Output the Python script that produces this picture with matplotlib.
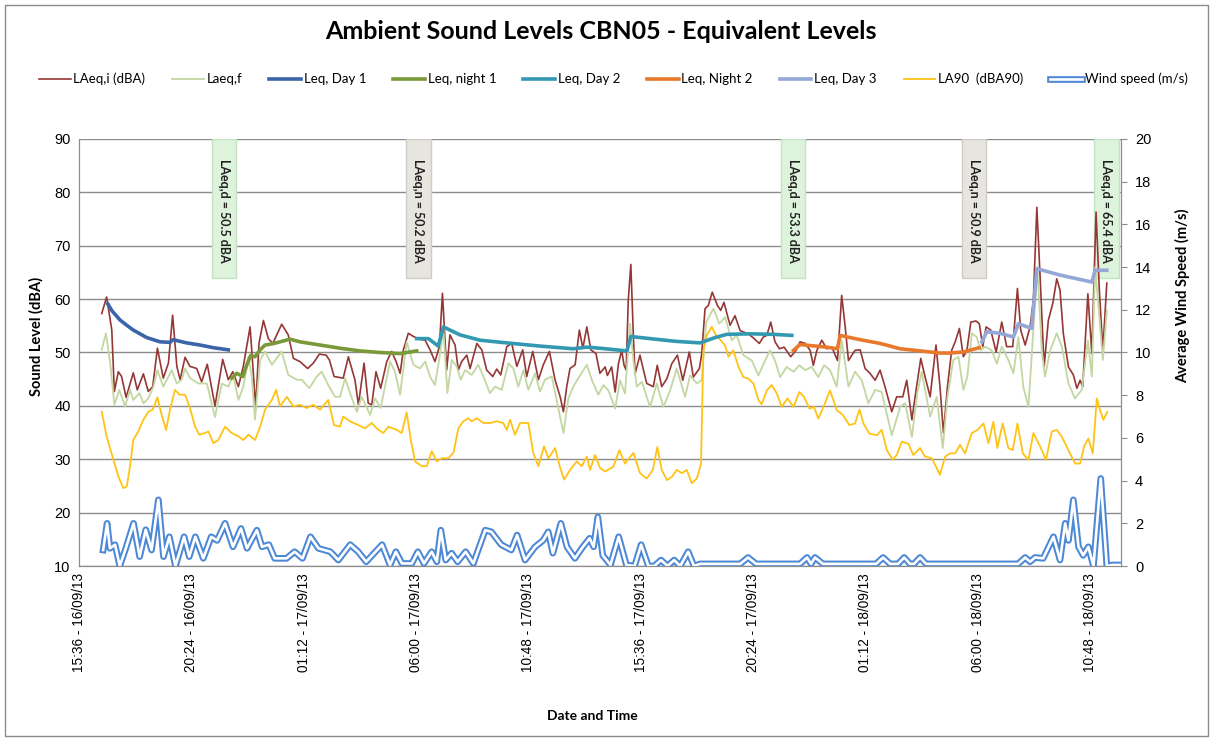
import matplotlib
matplotlib.use("Agg")
import matplotlib.pyplot as plt
from matplotlib.patches import Rectangle

# time axis: hours after 15:36 on 16/09/13
tick_hours = [0, 4.8, 9.6, 14.4, 19.2, 24.0, 28.8, 33.6, 38.4, 43.2]
tick_labels = ["15:36 - 16/09/13", "20:24 - 16/09/13", "01:12 - 17/09/13", "06:00 - 17/09/13",
               "10:48 - 17/09/13", "15:36 - 17/09/13", "20:24 - 17/09/13", "01:12 - 18/09/13",
               "06:00 - 18/09/13", "10:48 - 18/09/13"]

# LAeq,i (dBA)
laeq_i_t = [0.97, 1.18, 1.40, 1.51, 1.68, 1.82, 2.01, 2.32, 2.49, 2.75, 2.96, 3.15, 3.35, 3.60, 3.82, 4.00,
            4.18, 4.32, 4.53, 4.74, 5.03, 5.24, 5.48, 5.81, 6.14, 6.38, 6.57, 6.81, 7.02, 7.31, 7.42, 7.55,
            7.69, 7.88, 8.09, 8.28, 8.66, 8.94, 9.16, 9.44, 9.77, 10.01, 10.27, 10.56, 10.70, 10.90, 11.29,
            11.51, 11.79, 11.94, 12.18, 12.36, 12.51, 12.69, 12.89, 13.15, 13.36, 13.55, 13.72, 13.86, 14.07,
            14.29, 14.54, 14.79, 15.00, 15.21, 15.40, 15.53, 15.60, 15.71, 15.85, 16.07, 16.21, 16.35, 16.57,
            16.71, 17.00, 17.21, 17.42, 17.68, 17.85, 18.02, 18.28, 18.49, 18.71, 18.96, 19.13, 19.39, 19.63,
            19.84, 20.10, 20.34, 20.56, 20.70, 20.84, 20.98, 21.20, 21.38, 21.53, 21.70, 21.87, 22.09, 22.26,
            22.48, 22.58, 22.76, 22.91, 23.05, 23.19, 23.29, 23.38, 23.47, 23.58, 23.69, 23.76, 23.97, 24.12,
            24.26, 24.54, 24.71, 24.90, 25.12, 25.33, 25.57, 25.80, 26.08, 26.25, 26.51, 26.61, 26.75, 26.89,
            27.06, 27.28, 27.42, 27.56, 27.82, 28.03, 28.25, 28.42, 28.60, 28.85, 29.07, 29.24, 29.39, 29.56,
            29.74, 29.93, 30.13, 30.41, 30.64, 30.81, 31.03, 31.24, 31.38, 31.53, 31.74, 31.95, 32.17, 32.41,
            32.59, 32.74, 32.88, 33.16, 33.38, 33.59, 33.80, 34.02, 34.23, 34.44, 34.73, 34.94, 35.20, 35.37,
            35.59, 35.77, 35.97, 36.15, 36.37, 36.62, 36.79, 36.94, 37.11, 37.29, 37.44, 37.62, 37.79, 37.94,
            38.11, 38.33, 38.47, 38.62, 38.76, 38.96, 39.19, 39.43, 39.64, 39.90, 40.10, 40.24, 40.43, 40.64,
            40.78, 40.93, 41.07, 41.24, 41.42, 41.61, 41.78, 41.92, 42.06, 42.28, 42.49, 42.64, 42.78, 42.89,
            43.11, 43.28, 43.46, 43.60, 43.75, 43.92]
laeq_i = [57.3, 60.4, 54.2, 42.7, 46.4, 45.5, 41.6, 46.2, 43.0, 46.0, 42.7, 43.6, 50.8, 45.2, 48.0, 57.0,
          47.4, 44.9, 49.1, 47.4, 47.0, 44.5, 47.8, 40.0, 48.7, 44.9, 46.4, 43.6, 47.4, 54.8, 48.0, 39.6,
          51.7, 56.0, 52.6, 51.7, 55.3, 53.3, 48.9, 48.3, 47.0, 48.0, 49.7, 49.5, 48.6, 45.5, 45.2,
          49.2, 44.9, 40.2, 48.0, 40.5, 40.2, 46.4, 43.3, 48.3, 50.2, 48.3, 46.1, 50.5, 53.6,
          53.0, 52.5, 52.3, 50.5, 48.3, 51.1, 61.1, 55.5, 46.7, 53.3, 51.4, 46.7, 48.3, 49.5,
          47.0, 51.7, 50.5, 46.7, 45.5, 46.9, 45.8, 51.1, 51.7, 47.4, 50.5, 45.5, 50.2, 44.9,
          47.7, 50.2, 44.9, 41.7, 38.9, 43.6, 47.0, 47.7, 54.2, 50.8, 54.8, 50.5, 49.8, 46.1,
          47.3, 45.7, 47.3, 42.6, 47.9, 50.4, 47.6, 46.7, 59.8, 66.5, 52.9, 46.0, 49.5, 46.7,
          44.2, 43.6, 47.6, 43.6, 45.1, 47.9, 49.5, 44.8, 50.1, 45.4, 47.0, 49.8, 58.2, 58.8,
          61.3, 58.8, 57.9, 59.4, 55.1, 56.9, 54.1, 53.8, 53.5, 52.6, 51.7, 52.9, 53.2, 55.7,
          52.0, 50.7, 51.0, 49.2, 50.4, 52.0, 51.7, 50.4, 47.6, 50.4, 52.3, 50.7, 51.0, 48.5,
          60.7, 54.8, 48.5, 50.4, 50.5, 47.0, 46.1, 44.8, 46.7, 43.6, 38.9, 41.7, 41.7, 44.8,
          37.4, 43.0, 48.9, 45.5, 41.7, 51.4, 43.6, 34.9, 43.6, 50.4, 52.0, 54.5, 49.2, 50.4,
          55.7, 55.9, 55.4, 51.1, 54.8, 54.2, 50.1, 55.7, 51.1, 51.1, 62.0, 54.2, 51.4, 54.8,
          59.8, 77.2, 64.1, 47.3, 56.0, 59.2, 63.8, 61.7, 53.6, 47.3, 45.8, 43.3, 44.8, 43.6,
          61.0, 49.8, 76.3, 61.7, 50.4, 63.0]

# Laeq,f
laeq_f_t = [0.97, 1.15, 1.35, 1.51, 1.72, 1.97, 2.18, 2.32, 2.58, 2.75, 2.96, 3.18, 3.35, 3.60, 3.96, 4.18,
            4.39, 4.53, 4.74, 5.10, 5.46, 5.81, 6.10, 6.38, 6.59, 6.81, 7.02, 7.24, 7.38, 7.52, 7.74, 7.95,
            8.24, 8.66, 8.94, 9.30, 9.52, 9.84, 10.16, 10.37, 10.65, 10.94, 11.15, 11.37, 11.58, 11.87,
            12.08, 12.44, 12.65, 12.89, 13.29, 13.50, 13.72, 14.00, 14.29, 14.57, 14.79, 15.00, 15.21,
            15.43, 15.57, 15.74, 15.93, 16.14, 16.31, 16.50, 16.78, 17.06, 17.28, 17.56, 17.78, 18.06,
            18.35, 18.56, 18.77, 18.99, 19.20, 19.49, 19.70, 19.91, 20.20, 20.41, 20.70, 20.91, 21.12,
            21.38, 21.70, 21.91, 22.19, 22.41, 22.62, 22.91, 23.12, 23.33, 23.55, 23.69, 23.83, 24.05,
            24.40, 24.69, 24.97, 25.26, 25.54, 25.90, 26.11, 26.40, 26.61, 26.80, 27.11, 27.36, 27.61,
            27.89, 28.11, 28.39, 28.75, 29.03, 29.32, 29.53, 29.74, 29.96, 30.24, 30.53, 30.78, 31.03,
            31.31, 31.59, 31.84, 32.09, 32.38, 32.59, 32.88, 33.16, 33.45, 33.73, 34.02, 34.30, 34.73,
            35.09, 35.30, 35.59, 35.82, 36.01, 36.37, 36.65, 36.91, 37.11, 37.36, 37.58, 37.79, 37.96,
            38.15, 38.36, 38.53, 38.72, 39.00, 39.22, 39.43, 39.71, 39.93, 40.14, 40.35, 40.57, 40.78,
            40.95, 41.14, 41.28, 41.50, 41.78, 42.00, 42.28, 42.56, 42.85, 43.11, 43.28, 43.42, 43.60,
            43.75, 43.92]
laeq_f = [50.5, 53.6, 47.4, 40.2, 43.0, 39.9, 43.0, 41.1, 42.4, 40.5, 41.4, 43.6, 46.7, 43.6, 46.7, 44.2,
          44.9, 47.0, 45.2, 44.2, 44.2, 37.9, 44.2, 43.6, 45.8, 41.1, 43.6, 49.2, 45.5, 37.4, 48.6, 50.2,
          47.7, 50.2, 45.8, 44.9, 44.9, 43.3, 45.5, 46.4, 43.9, 41.7, 41.7, 45.2, 42.4, 38.9,
          41.7, 38.3, 41.4, 39.6, 48.3, 46.4, 42.1, 52.0, 47.7, 47.0, 48.3, 45.5, 43.9,
          49.8, 54.5, 42.4, 48.6, 47.4, 44.9, 46.7, 45.8, 47.7, 45.5, 42.4, 43.6, 43.0,
          48.0, 47.0, 43.6, 46.7, 43.0, 46.1, 42.7, 44.9, 45.5, 41.1, 34.9, 41.4, 43.6,
          45.5, 47.7, 44.9, 42.1, 43.9, 42.9, 39.5, 44.8, 42.3, 55.4, 48.5, 43.6, 44.5,
          39.8, 44.2, 39.8, 42.9, 47.0, 41.7, 45.7, 44.2, 44.8, 55.7, 58.2, 55.4, 56.6,
          52.3, 53.2, 49.5, 48.5, 45.7, 48.5, 50.4, 48.5, 45.4, 47.3, 46.4, 47.6, 46.7,
          47.3, 45.4, 47.6, 46.7, 43.6, 52.3, 43.6, 46.4, 44.8, 40.5, 43.0, 42.6, 34.5,
          39.8, 40.5, 34.2, 42.3, 46.4, 38.0, 41.7, 32.1, 41.7, 48.6, 49.2, 43.0, 45.5,
          53.6, 52.9, 50.4, 51.1, 50.4, 47.9, 51.1, 48.6, 46.1, 52.9, 43.6, 39.8, 54.2,
          66.0, 50.4, 45.5, 50.4, 53.6, 51.1, 44.2, 41.4, 43.0, 52.3, 45.5, 66.0, 56.7,
          48.6, 57.9]

# LA90 (dBA90)
la90_t = [0.97, 1.18, 1.47, 1.68, 1.89, 2.04, 2.18, 2.32, 2.53, 2.75, 2.96, 3.15, 3.35, 3.53, 3.72, 3.89,
          4.10, 4.29, 4.53, 4.74, 4.96, 5.14, 5.38, 5.53, 5.74, 5.95, 6.24, 6.53, 6.81, 7.02, 7.24, 7.52,
          7.74, 7.95, 8.24, 8.42, 8.59, 8.88, 9.16, 9.44, 9.73, 10.01, 10.30, 10.65, 10.90, 11.15, 11.29,
          11.58, 11.94, 12.22, 12.51, 12.72, 13.00, 13.22, 13.58, 13.79, 14.00, 14.18, 14.36, 14.65,
          14.86, 15.07, 15.29, 15.50, 15.78, 16.00, 16.21, 16.42, 16.64, 16.78, 17.00, 17.28, 17.56,
          17.85, 18.13, 18.28, 18.42, 18.63, 18.85, 19.20, 19.41, 19.63, 19.87, 20.06, 20.34, 20.56,
          20.73, 20.98, 21.27, 21.48, 21.70, 21.84, 22.05, 22.26, 22.48, 22.83, 23.09, 23.33, 23.69,
          23.97, 24.26, 24.52, 24.71, 24.90, 25.12, 25.33, 25.54, 25.76, 25.97, 26.18, 26.40, 26.58,
          26.68, 26.82, 27.04, 27.22, 27.42, 27.61, 27.75, 27.96, 28.18, 28.39, 28.60, 28.82, 29.03,
          29.17, 29.39, 29.60, 29.82, 30.03, 30.27, 30.53, 30.78, 30.98, 31.21, 31.41, 31.59, 31.84,
          32.09, 32.38, 32.64, 32.92, 33.16, 33.35, 33.52, 33.77, 34.09, 34.30, 34.52, 34.77, 34.94,
          35.16, 35.44, 35.65, 35.94, 36.15, 36.44, 36.79, 37.01, 37.22, 37.44, 37.65, 37.86, 38.15,
          38.39, 38.65, 38.86, 39.07, 39.24, 39.47, 39.71, 39.90, 40.10, 40.33, 40.57, 40.78, 41.07,
          41.32, 41.57, 41.78, 42.00, 42.28, 42.56, 42.78, 42.95, 43.13, 43.32, 43.49, 43.63, 43.77,
          43.94]
la90 = [38.9, 34.3, 29.9, 26.8, 24.6, 24.9, 28.7, 33.6, 35.2, 37.4, 38.9, 39.3, 41.6, 38.3, 35.5, 39.3,
        43.0, 42.1, 42.1, 39.6, 36.1, 34.6, 34.9, 35.2, 33.0, 33.6, 36.1, 34.9, 34.3, 33.6, 34.6, 33.6,
        36.1, 39.3, 41.1, 43.0, 39.9, 41.7, 39.9, 40.2, 39.6, 40.2, 39.3, 41.1, 36.4, 36.1, 38.0,
        37.1, 36.4, 35.8, 36.8, 35.8, 34.9, 36.1, 35.5, 34.9, 38.8, 33.6, 29.6, 28.7,
        28.7, 31.5, 29.6, 30.2, 30.2, 31.2, 35.8, 37.1, 37.7, 37.1, 37.7, 36.8, 36.8,
        37.1, 36.8, 35.5, 37.4, 34.6, 36.8, 36.8, 31.2, 28.7, 32.4, 30.2, 32.1, 28.4,
        26.2, 28.0, 29.6, 28.7, 30.5, 28.0, 30.8, 28.4, 27.7, 28.6, 31.7, 29.2, 31.2,
        27.4, 26.4, 28.0, 32.3, 28.0, 26.1, 26.7, 28.0, 27.4, 28.0, 25.5, 26.4, 29.2,
        50.4, 53.2, 54.8, 53.2, 52.3, 51.3, 49.2, 50.4, 47.3, 45.4, 45.1, 44.2, 41.1,
        40.3, 42.9, 43.9, 42.3, 39.8, 41.4, 39.8, 42.6, 41.7, 39.5, 39.8, 37.6, 40.1,
        42.9, 39.2, 38.3, 36.4, 36.7, 39.3, 36.7, 34.8, 34.5, 35.5, 31.7, 29.9, 30.8,
        33.3, 32.9, 30.8, 32.1, 30.5, 30.2, 27.1, 30.5, 31.1, 31.1, 32.7, 31.1, 34.9,
        35.5, 36.7, 33.0, 37.0, 32.1, 36.7, 32.1, 31.7, 36.7, 31.1, 29.9, 34.9, 32.4,
        29.9, 35.2, 35.5, 34.2, 31.7, 29.2, 29.2, 32.4, 33.9, 31.1, 41.4, 39.2, 37.4,
        38.9]

# running Leq lines
leq_day1_t = [1.23, 1.41, 1.75, 2.01, 2.32, 2.89, 3.46, 3.89, 4.02, 4.60, 5.17, 5.74, 6.38]
leq_day1 = [59.1, 57.8, 56.1, 55.2, 54.2, 52.8, 52.0, 51.9, 52.4, 51.8, 51.4, 50.9, 50.5]
leq_night1_t = [6.53, 6.74, 7.00, 7.17, 7.34, 7.52, 7.74, 7.95, 8.24, 8.59, 9.02, 9.44, 10.30, 11.15,
                12.01, 12.86, 13.72, 14.43]
leq_night1 = [45.2, 46.1, 45.5, 47.7, 49.5, 49.2, 50.5, 51.4, 51.6, 52.0, 52.5, 52.0, 51.4, 50.8,
              50.3, 50.0, 49.8, 50.3]
leq_day2_t = [14.43, 14.93, 15.35, 15.57, 16.28, 17.14, 18.28, 19.70, 21.12, 21.70, 22.26, 23.41, 23.58,
              24.40, 25.47, 26.54, 27.18, 27.68, 28.68, 29.67, 30.46]
leq_day2 = [52.6, 52.6, 51.2, 54.8, 53.3, 52.3, 51.8, 51.2, 50.7, 51.0, 50.8, 50.3, 53.0,
            52.6, 52.1, 51.8, 52.8, 53.4, 53.5, 53.4, 53.2]
leq_night2_t = [30.53, 30.81, 31.24, 31.95, 32.41, 32.52, 33.38, 34.23, 35.09, 35.94, 36.79, 37.22, 37.79, 38.47]
leq_night2 = [50.4, 51.5, 51.3, 51.0, 50.7, 53.2, 52.4, 51.7, 50.7, 50.3, 49.9, 49.9, 50.1, 50.9]
leq_day3_t = [38.58, 38.79, 39.36, 39.93, 40.14, 40.71, 40.93, 41.92, 43.28, 43.42, 43.92]
leq_day3 = [52.0, 53.9, 53.6, 52.9, 55.4, 54.5, 65.7, 64.5, 63.2, 65.4, 65.4]

# wind speed (m/s), right axis
wind_t = [1.03, 1.20, 1.32, 1.54, 1.74, 2.00, 2.33, 2.59, 2.85, 3.10, 3.39, 3.61, 3.86, 4.12, 4.49, 4.71,
          4.97, 5.31, 5.65, 5.90, 6.24, 6.58, 6.92, 7.18, 7.60, 7.82, 8.11, 8.36, 8.87, 9.21, 9.55, 9.89,
          10.23, 10.74, 11.08, 11.59, 11.93, 12.27, 12.95, 13.29, 13.54, 13.80, 14.22, 14.48, 14.74,
          15.07, 15.29, 15.46, 15.67, 15.92, 16.18, 16.52, 16.85, 17.36, 17.62, 18.04, 18.47, 18.72,
          19.06, 19.49, 19.83, 20.05, 20.25, 20.59, 20.85, 21.19, 21.53, 21.82, 21.99, 22.17, 22.38,
          22.71, 23.06, 23.39, 23.74, 24.02, 24.33, 24.58, 24.87, 25.15, 25.43, 25.69, 26.03, 26.28,
          26.54, 28.25, 28.59, 28.93, 30.81, 31.11, 31.28, 31.45, 31.79, 34.06, 34.36, 34.66, 35.00,
          35.26, 35.51, 35.68, 35.94, 36.20, 40.13, 40.43, 40.64, 40.85, 41.20, 41.64, 41.92, 42.14,
          42.28, 42.49, 42.71, 42.91, 43.13, 43.35, 43.66, 43.92, 44.15, 44.49]
wind = [0.75, 2.0, 0.83, 1.0, 0.0, 0.83, 2.0, 0.44, 1.7, 0.75, 3.1, 0.44, 1.37, 0.0, 1.37, 0.44,
        1.37, 0.36, 1.37, 1.2, 2.0, 0.9, 1.76, 0.83, 1.68, 0.9, 1.0, 0.36, 0.36, 0.67, 0.36, 1.37,
        0.83, 0.67, 0.28, 1.0, 0.67, 0.2, 1.0, 0.05, 0.67, 0.12, 0.12, 0.67, 0.12,
        0.67, 0.2, 1.68, 0.28, 0.6, 0.2, 0.67, 0.12, 1.68, 1.6, 1.0, 0.75, 1.45,
        0.28, 0.9, 1.2, 1.6, 0.6, 2.0, 0.9, 0.36, 0.9, 1.3, 0.9, 2.3, 0.5,
        0.05, 1.37, 0.05, 0.0, 1.0, 0.0, 0.0, 0.28, 0.0, 0.28, 0.0, 0.67, 0.0,
        0.1, 0.1, 0.4, 0.1, 0.1, 0.4, 0.1, 0.4, 0.1, 0.1, 0.4, 0.1, 0.1,
        0.4, 0.1, 0.1, 0.4, 0.1, 0.1, 0.4, 0.2, 0.4, 0.36, 1.37, 0.28, 2.0,
        1.2, 3.1, 0.9, 0.5, 0.9, 0.0, 4.1, 0.0, 0.05, 0.05]

# period results written in the boxes
box_hours = [6.2, 14.5, 30.5, 38.25, 43.9]
box_text = ["LAeq,d = 50.5 dBA", "LAeq,n = 50.2 dBA", "LAeq,d = 53.3 dBA", "LAeq,n = 50.9 dBA", "LAeq,d = 65.4 dBA"]
box_is_day = [True, False, True, False, True]

lab_font = "Lato"
tick_font = "Liberation Sans"

fig = plt.figure(figsize=(12.12, 7.4), dpi=100)
ax = fig.add_axes([0.0652, 0.2351, 0.8598, 0.5771])
ax2 = ax.twinx()

# boxes with the period results
for h, txt, day in zip(box_hours, box_text, box_is_day):
    if day:
        fc, ec = "#ddf3dc", "#c3e3c2"
    else:
        fc, ec = "#e7e5df", "#cfccc4"
    ax.add_patch(Rectangle((h - 0.52, 63.9), 1.04, 26.1, facecolor=fc, edgecolor=ec, lw=1, zorder=1))
    ax.text(h, 76.6, txt, rotation=270, ha="center", va="center", fontsize=9,
            fontweight="bold", family=lab_font, color="#202020", zorder=2)

l1, = ax.plot(laeq_i_t, laeq_i, color="#953735", lw=1.2, label="LAeq,i (dBA)", zorder=3)
l2, = ax.plot(laeq_f_t, laeq_f, color="#c4d6a2", lw=1.3, label="Laeq,f", zorder=3)
l3, = ax.plot(leq_day1_t, leq_day1, color="#3b65a8", lw=2.6, label="Leq, Day 1", zorder=4)
l4, = ax.plot(leq_night1_t, leq_night1, color="#7a9a3a", lw=2.6, label="Leq, night 1", zorder=4)
l5, = ax.plot(leq_day2_t, leq_day2, color="#3399b3", lw=2.6, label="Leq, Day 2", zorder=4)
l6, = ax.plot(leq_night2_t, leq_night2, color="#e8792b", lw=2.6, label="Leq, Night 2", zorder=4)
l7, = ax.plot(leq_day3_t, leq_day3, color="#93a8d6", lw=2.6, label="Leq, Day 3", zorder=4)
l8, = ax.plot(la90_t, la90, color="#ffc316", lw=1.3, label="LA90  (dBA90)", zorder=3)

# wind speed drawn as a double line
w1, = ax2.plot(wind_t, wind, color="#4d88d6", lw=4.8, solid_joinstyle="round")
w2, = ax2.plot(wind_t, wind, color="white", lw=1.9, solid_joinstyle="round")

ax.set_xlim(0, 44.53)
ax.set_ylim(10, 90)
ax.set_yticks(range(10, 91, 10))
ax2.set_ylim(0, 20)
ax2.set_yticks(range(0, 21, 2))
ax.set_xticks(tick_hours)
ax.set_xticklabels(tick_labels, rotation=90, family=tick_font, fontsize=9.8)
for t in ax.get_yticklabels() + ax2.get_yticklabels():
    t.set_family(tick_font)
    t.set_fontsize(10.5)

ax.grid(axis="y", color="#8c8c8c", lw=1)
ax.set_axisbelow(True)
for a in (ax, ax2):
    a.spines["top"].set_visible(False)
    for s in ("left", "bottom", "right"):
        a.spines[s].set_color("#8c8c8c")
ax.tick_params(axis="both", length=0, pad=6)
ax.tick_params(axis="x", pad=5)
ax2.tick_params(axis="y", length=4, color="#8c8c8c", pad=6)

fig.text(0.496, 0.957, "Ambient Sound Levels CBN05 - Equivalent Levels", ha="center", va="center",
         fontsize=18, fontweight="bold", family=lab_font)
fig.text(0.030, 0.546, "Sound Level (dBA)", rotation=90, ha="center", va="center",
         fontsize=10.5, fontweight="bold", family=lab_font)
fig.text(0.976, 0.600, "Average Wind Speed (m/s)", rotation=90, ha="center", va="center",
         fontsize=10.5, fontweight="bold", family=lab_font)
fig.text(0.489, 0.032, "Date and Time", ha="center", va="center",
         fontsize=10, fontweight="bold", family=lab_font)

handles = [l1, l2, l3, l4, l5, l6, l7, l8, (w1, w2)]
labels = [h.get_label() for h in handles[:-1]] + ["Wind speed (m/s)"]
fig.legend(handles, labels, loc="center", bbox_to_anchor=(0.506, 0.893), ncol=9, frameon=False,
           prop={"family": lab_font, "size": 9.5}, handlelength=2.4, handletextpad=0.2, columnspacing=2.05)

# outer chart border
fig.patches.append(Rectangle((0.004, 0.005), 0.993, 0.988, transform=fig.transFigure,
                             fill=False, edgecolor="#8c8c8c", lw=1))

fig.savefig("out.png", dpi=100)
